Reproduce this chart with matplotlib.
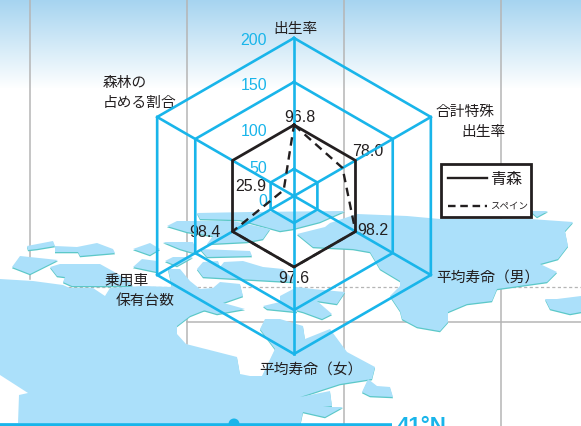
import numpy as np
import matplotlib
matplotlib.use("Agg")
import matplotlib.pyplot as plt
from matplotlib.patches import Polygon, Rectangle, Circle

plt.rcParams['font.family'] = ['Noto Sans CJK JP', 'DejaVu Sans']

categories = ["出生率", "合計特殊\n出生率", "平均寿命（男）", "平均寿命（女）", "乗用車\n保有台数", "森林の\n占める割合"]
ring_values = [50, 150, 200]
tick_values = [200, 150, 100, 50, 0]
# the chart's scale is not linear near the centre
scale_values = [0, 50, 100, 150, 200]
scale_radius = [0, 27, 71, 114, 158]

aomori = [100, 100, 100, 100, 100, 100]
spain_labels = [96.8, 78.0, 98.2, 97.6, 98.4, 25.9]
spain_drawn = [100, 83, 100, 100, 100, 22]

BLUE = '#19b5ea'
LAND = '#abe0fa'
EDGE = '#5cc8c8'
GRAY = '#b5b5b5'
INK = '#231f20'

# map background, pixel coordinates of the picture
land = [
    [(0, 280), (33, 282), (63, 286), (70, 289), (93, 289), (105, 297), (110, 289), (143, 287), (172, 288),
     (168, 270), (180, 270), (190, 282), (200, 290), (213, 289), (220, 283), (240, 285), (243, 297), (220, 305),
     (190, 317), (177, 327), (177, 335), (186, 345), (237, 358), (240, 375), (250, 377), (262, 377), (275, 350),
     (260, 330), (265, 320), (280, 320), (303, 327), (305, 340), (330, 330), (347, 353), (375, 368), (372, 380),
     (340, 385), (300, 398), (330, 392), (332, 407), (323, 408), (343, 408), (325, 418), (303, 413), (300, 427),
     (0, 427)],
    [(27, 247), (53, 242), (55, 247), (37, 250), (28, 251)],
    [(55, 247), (77, 248), (97, 244), (113, 250), (115, 254), (80, 257), (78, 253), (55, 253)],
    [(20, 257), (58, 261), (30, 275), (12, 268)],
    [(50, 268), (60, 265), (100, 265), (127, 280), (133, 287), (72, 287), (63, 283), (65, 278), (57, 277)],
    [(133, 250), (150, 244), (160, 250), (150, 256)],
    [(142, 260), (157, 262), (157, 273), (133, 268)],
    [(165, 262), (173, 258), (193, 258), (177, 267)],
    [(163, 243), (193, 243), (197, 255), (180, 250)],
    [(167, 227), (177, 222), (233, 222), (270, 230), (263, 240), (247, 243), (207, 245), (213, 237), (187, 233)],
    [(197, 214), (250, 213), (345, 212), (320, 223), (293, 230), (280, 232), (240, 221), (200, 220)],
    [(200, 250), (250, 252), (252, 257), (207, 258)],
    [(197, 270), (203, 263), (218, 262), (220, 268), (224, 263), (243, 262), (263, 268), (283, 270), (293, 280),
     (293, 283), (203, 278)],
    [(220, 303), (245, 310), (217, 315), (200, 310)],
    [(263, 307), (280, 303), (297, 300), (297, 313), (267, 310)],
    [(280, 297), (297, 288), (313, 290), (345, 293), (337, 305), (317, 302), (332, 315), (322, 320), (303, 313),
     (280, 307)],
    [(297, 235), (325, 228), (330, 224), (357, 215), (407, 217), (440, 220), (530, 220), (573, 223), (565, 232),
     (568, 247), (558, 260), (540, 265), (557, 273), (547, 283), (497, 290), (492, 302), (467, 305), (448, 313),
     (448, 323), (440, 332), (417, 328), (402, 320), (400, 312), (390, 297), (400, 287), (400, 282), (380, 270),
     (370, 253), (353, 250), (313, 248)],
    [(530, 212), (548, 212), (537, 218)],
    [(545, 300), (557, 300), (581, 297), (581, 313), (570, 315), (550, 310)],
    [(362, 393), (368, 380), (377, 387), (390, 388), (393, 398), (370, 397)],
    [(0, 380), (18, 393), (16, 395), (0, 385)],
]
notch = [(0, 376), (28, 394), (19, 396), (18, 424), (0, 424)]

fig = plt.figure(figsize=(5.81, 4.27), dpi=100)

bg = fig.add_axes([0, 0, 1, 1])
bg.set_xlim(0, 581)
bg.set_ylim(427, 0)
bg.axis('off')

# sky
sky = np.linspace(0, 1, 90).reshape(-1, 1)
sky_rgb = np.array([165, 212, 240]) / 255 * (1 - sky[..., None]) + sky[..., None]
bg.imshow(sky_rgb, extent=[0, 581, 90, 0], aspect='auto', zorder=0)
bg.set_xlim(0, 581)
bg.set_ylim(427, 0)

# graticule
for x, y0, y1 in [(30, 0, 280), (187, 0, 345), (344, 0, 427), (501, 0, 427)]:
    bg.plot([x, x], [y0, y1], color=GRAY, lw=1.1, zorder=1)
bg.plot([187, 581], [323, 323], color=GRAY, lw=1.1, zorder=1)
bg.plot([68, 581], [288, 288], color=GRAY, lw=0.9, ls=(0, (2.5, 2)), zorder=1)

for shape in land:
    pts = np.array(shape, dtype=float)
    bg.add_patch(Polygon(pts + [0, 1.3], closed=True, fc=EDGE, ec='none', zorder=2))
    bg.add_patch(Polygon(pts, closed=True, fc=LAND, ec='none', zorder=3))
bg.add_patch(Polygon(notch, closed=True, fc='white', ec='none', zorder=3.5))

# latitude line at the bottom
bg.plot([0, 392], [425.5, 425.5], color=BLUE, lw=2.6, zorder=4, solid_capstyle='butt')
bg.add_patch(Circle((234, 425), 5.5, fc=BLUE, ec='none', zorder=4))
bg.text(397, 432, "41°N", color=BLUE, fontsize=16, family=['Liberation Sans'], fontweight='bold',
        va='baseline', ha='left', zorder=4, clip_on=True)

# radar, centre (294, 197), outer ring 158 px
ax = fig.add_axes([(294 - 158) / 581, (427 - 197 - 158) / 427, 316 / 581, 316 / 427], projection='polar')
ax.set_theta_zero_location('N')
ax.set_theta_direction(-1)
ax.set_ylim(0, 158)
ax.axis('off')
ax.patch.set_alpha(0)

theta = np.deg2rad(np.arange(6) * 60)


def to_r(vals):
    return np.interp(vals, scale_values, scale_radius)


def closed(vals):
    return np.append(theta, theta[0]), np.append(to_r(vals), to_r(vals)[0])


for v in ring_values:
    t, r = closed([v] * 6)
    ax.plot(t, r, color=BLUE, lw=1.9, clip_on=False, zorder=3, solid_joinstyle='miter')
for a in theta:
    ax.plot([a, a], [0, to_r(200)], color=BLUE, lw=1.9, clip_on=False, zorder=3)

t, r = closed(spain_drawn)
ax.plot(t, r, color=INK, lw=1.7, ls=(0, (3.6, 2.4)), clip_on=False, zorder=4)
t, r = closed(aomori)
ax.plot(t, r, color=INK, lw=2.0, clip_on=False, zorder=5, solid_joinstyle='miter')

# text, pixel coordinates
label_pos = [(295, 29, 'center'), (436, 112, 'left'), (436, 279, 'left'), (311, 371, 'center'),
             (104, 281, 'left'), (103, 83, 'left')]
for name, (x, y, ha) in zip(categories, label_pos):
    lines = name.split("\n")
    bg.text(x, y, lines[0], fontsize=10.6, color=INK, ha=ha, va='center', zorder=6)
    if len(lines) > 1:
        x2 = {1: 461, 4: 116, 5: 103}[categories.index(name)]
        bg.text(x2, y + 20, lines[1], fontsize=10.6, color=INK, ha='left', va='center', zorder=6)

tick_y = [40.5, 85.5, 131.5, 168.5, 201.5]
for v, y in zip(tick_values, tick_y):
    bg.text(267, y, str(v), fontsize=11.5, color=BLUE, ha='right', va='center',
            family=['Liberation Sans'], zorder=6)

value_pos = [(300, 117.5), (368, 151.5), (373, 230.5), (294, 278.5), (205, 232.5), (251, 186.5)]
for v, (x, y) in zip(spain_labels, value_pos):
    bg.text(x, y, f"{v:.1f}", fontsize=11.5, color=INK, ha='center', va='center',
            family=['Liberation Sans'], zorder=6)

# legend
bg.add_patch(Rectangle((441, 165), 90, 53, fc='white', ec=INK, lw=2, zorder=6))
bg.plot([448, 487], [179, 179], color=INK, lw=1.7, zorder=7)
bg.text(490, 180, "青森", fontsize=11.5, color=INK, ha='left', va='center', zorder=7)
bg.plot([448, 487], [207, 207], color=INK, lw=1.7, ls=(0, (3.2, 2)), zorder=7)
bg.text(490, 206, "スペイン", fontsize=6.8, color=INK, ha='left', va='center', zorder=7)

fig.savefig("out.png", dpi=100)
